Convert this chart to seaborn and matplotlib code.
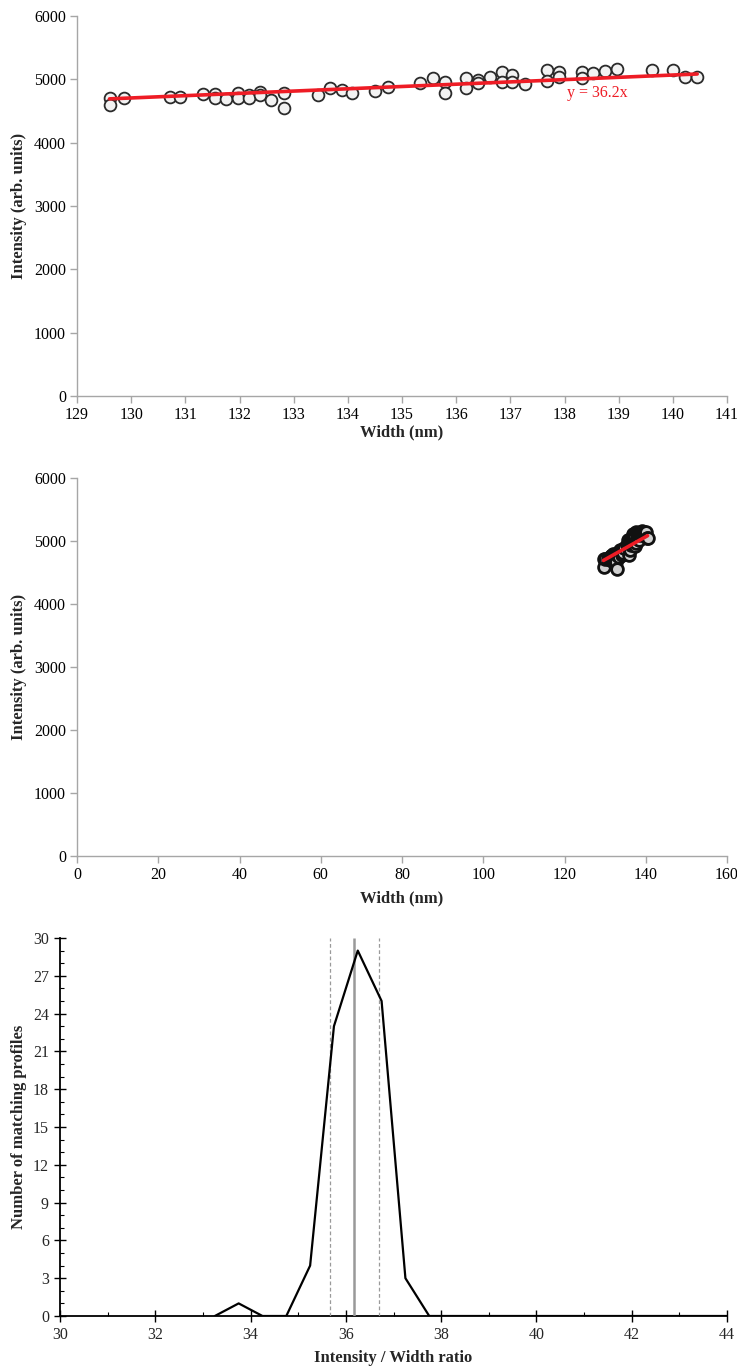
import matplotlib
matplotlib.use("Agg")
import matplotlib.pyplot as plt
import seaborn as sns
import numpy as np
import pandas as pd
from matplotlib.ticker import MultipleLocator

# ---------------- data ----------------
width_nm = [129.61, 129.61, 129.86, 130.72, 130.90, 131.33, 131.55, 131.55, 131.76,
            131.97, 131.97, 132.18, 132.18, 132.38, 132.38, 132.59, 132.82, 132.82,
            133.45, 133.67, 133.89, 134.08, 134.50, 134.74, 135.33, 135.58, 135.80,
            135.80, 136.19, 136.19, 136.41, 136.41, 136.63, 136.84, 136.84, 137.04,
            137.04, 137.27, 137.68, 137.68, 137.90, 137.90, 138.32, 138.32, 138.53,
            138.75, 138.97, 139.61, 140.01, 140.22, 140.44]
intensity = [4710, 4595, 4710, 4716, 4716, 4764, 4764, 4700, 4690,
             4790, 4710, 4753, 4700, 4795, 4750, 4674, 4780, 4552,
             4753, 4858, 4832, 4780, 4816, 4884, 4937, 5016, 4963,
             4780, 5016, 4858, 4990, 4937, 5042, 5111, 4953, 5069,
             4963, 4922, 5148, 4974, 5121, 5040, 5121, 5016, 5095,
             5132, 5163, 5148, 5148, 5042, 5042]
fit_slope = 36.2
fit_x = [129.6, 140.45]
fit_label = "y = 36.2x"

ratio_bins = [33.25, 33.75, 34.25, 34.75, 35.25, 35.75, 36.25, 36.75, 37.25, 37.75,
              38.25, 38.75, 39.25, 39.75, 40.25, 40.75, 41.25, 41.75, 42.25, 42.75,
              43.25, 43.75, 44.25]
profile_counts = [0, 1, 0, 0, 4, 23, 29, 25, 3, 0,
                  0, 0, 0, 0, 0, 0, 0, 0, 0, 0,
                  0, 0, 0]
ratio_mean = 36.18
ratio_low = 35.67
ratio_high = 36.69

df = pd.DataFrame({"w": width_nm, "i": intensity})
fit_df = pd.DataFrame({"w": fit_x, "i": [fit_slope * v for v in fit_x]})
hist_df = pd.DataFrame({"r": ratio_bins, "n": profile_counts})

# ---------------- style ----------------
sns.set_theme(style="white")
plt.rcParams["font.family"] = ["Liberation Serif", "DejaVu Serif"]
plt.rcParams["font.size"] = 11.5

W, H = 737, 1369
fig = plt.figure(figsize=(W / 100, H / 100), dpi=100)

def frac(l, t, r, b):
    return [l / W, 1 - b / H, (r - l) / W, (b - t) / H]

gray = "#a6a6a6"
TICK_FS = 11.5
LAB_FS = 12

def style_gray(ax):
    for s in ["top", "right"]:
        ax.spines[s].set_visible(False)
    for s in ["left", "bottom"]:
        ax.spines[s].set_color(gray)
        ax.spines[s].set_linewidth(1.0)
    ax.tick_params(axis="both", which="major", direction="out", length=5,
                   width=1.0, color=gray, labelsize=TICK_FS, labelcolor="black",
                   left=True, bottom=True, pad=3)

marker_kw = dict(marker="o", s=72, facecolor="#f2f2f2", edgecolor="#2a2a2a",
                 linewidth=1.3, zorder=3)
marker_kw2 = dict(marker="o", s=72, facecolor="#d0d0d0", edgecolor="#111111",
                  linewidth=2.0, zorder=3)

# ---------------- top panel ----------------
ax1 = fig.add_axes(frac(77, 16, 727, 396))
sns.scatterplot(data=df, x="w", y="i", ax=ax1, legend=False, **marker_kw)
sns.lineplot(data=fit_df, x="w", y="i", ax=ax1, color="#ee1c25", linewidth=2.6,
             zorder=4)
ax1.text(138.6, 4790, fit_label, color="#ee1c25", fontsize=TICK_FS,
         ha="center", va="center", zorder=5)
ax1.set_xlim(129, 141)
ax1.set_ylim(0, 6000)
ax1.xaxis.set_major_locator(MultipleLocator(1))
ax1.yaxis.set_major_locator(MultipleLocator(1000))
style_gray(ax1)
ax1.set_xlabel("Width (nm)", fontweight="bold", fontsize=LAB_FS, labelpad=1)
ax1.set_ylabel("Intensity (arb. units)", fontweight="bold", fontsize=LAB_FS, labelpad=5)

# ---------------- middle panel ----------------
ax2 = fig.add_axes(frac(77, 478, 727, 856))
sns.scatterplot(data=df, x="w", y="i", ax=ax2, legend=False, **marker_kw2)
sns.lineplot(data=fit_df, x="w", y="i", ax=ax2, color="#ee1c25", linewidth=2.6,
             zorder=4)
ax2.set_xlim(0, 160)
ax2.set_ylim(0, 6000)
ax2.xaxis.set_major_locator(MultipleLocator(20))
ax2.yaxis.set_major_locator(MultipleLocator(1000))
style_gray(ax2)
ax2.set_xlabel("Width (nm)", fontweight="bold", fontsize=LAB_FS, labelpad=5)
ax2.set_ylabel("Intensity (arb. units)", fontweight="bold", fontsize=LAB_FS, labelpad=5)

# ---------------- bottom panel ----------------
ax3 = fig.add_axes(frac(60, 938, 727, 1316))
sns.lineplot(data=hist_df, x="r", y="n", ax=ax3, color="black", linewidth=1.6,
             zorder=4)
ax3.vlines([ratio_low, ratio_high], 0, 30, colors="#9a9a9a", linestyles=(0, (3, 2)),
           linewidth=0.9, zorder=3)
ax3.vlines([ratio_mean], 0, 30, colors="#999999", linewidth=1.8, zorder=3)
ax3.set_xlim(30, 44)
ax3.set_ylim(0, 30)
ax3.xaxis.set_major_locator(MultipleLocator(2))
ax3.xaxis.set_minor_locator(MultipleLocator(1))
ax3.yaxis.set_major_locator(MultipleLocator(3))
ax3.yaxis.set_minor_locator(MultipleLocator(1))
for s in ["top", "right"]:
    ax3.spines[s].set_visible(False)
for s in ["left", "bottom"]:
    ax3.spines[s].set_color("black")
    ax3.spines[s].set_linewidth(1.3)
ax3.tick_params(axis="both", which="major", direction="inout", length=8, width=1.0,
                color="black", labelsize=TICK_FS, left=True, bottom=True, pad=4)
ax3.tick_params(axis="both", which="minor", direction="in", length=3, width=0.8,
                color="black", left=True, bottom=True)
ax3.set_xlabel("Intensity / Width ratio", fontweight="bold", fontsize=LAB_FS, labelpad=5)
ax3.set_ylabel("Number of matching profiles", fontweight="bold", fontsize=LAB_FS,
               labelpad=4)

fig.savefig("out.png", dpi=100)
